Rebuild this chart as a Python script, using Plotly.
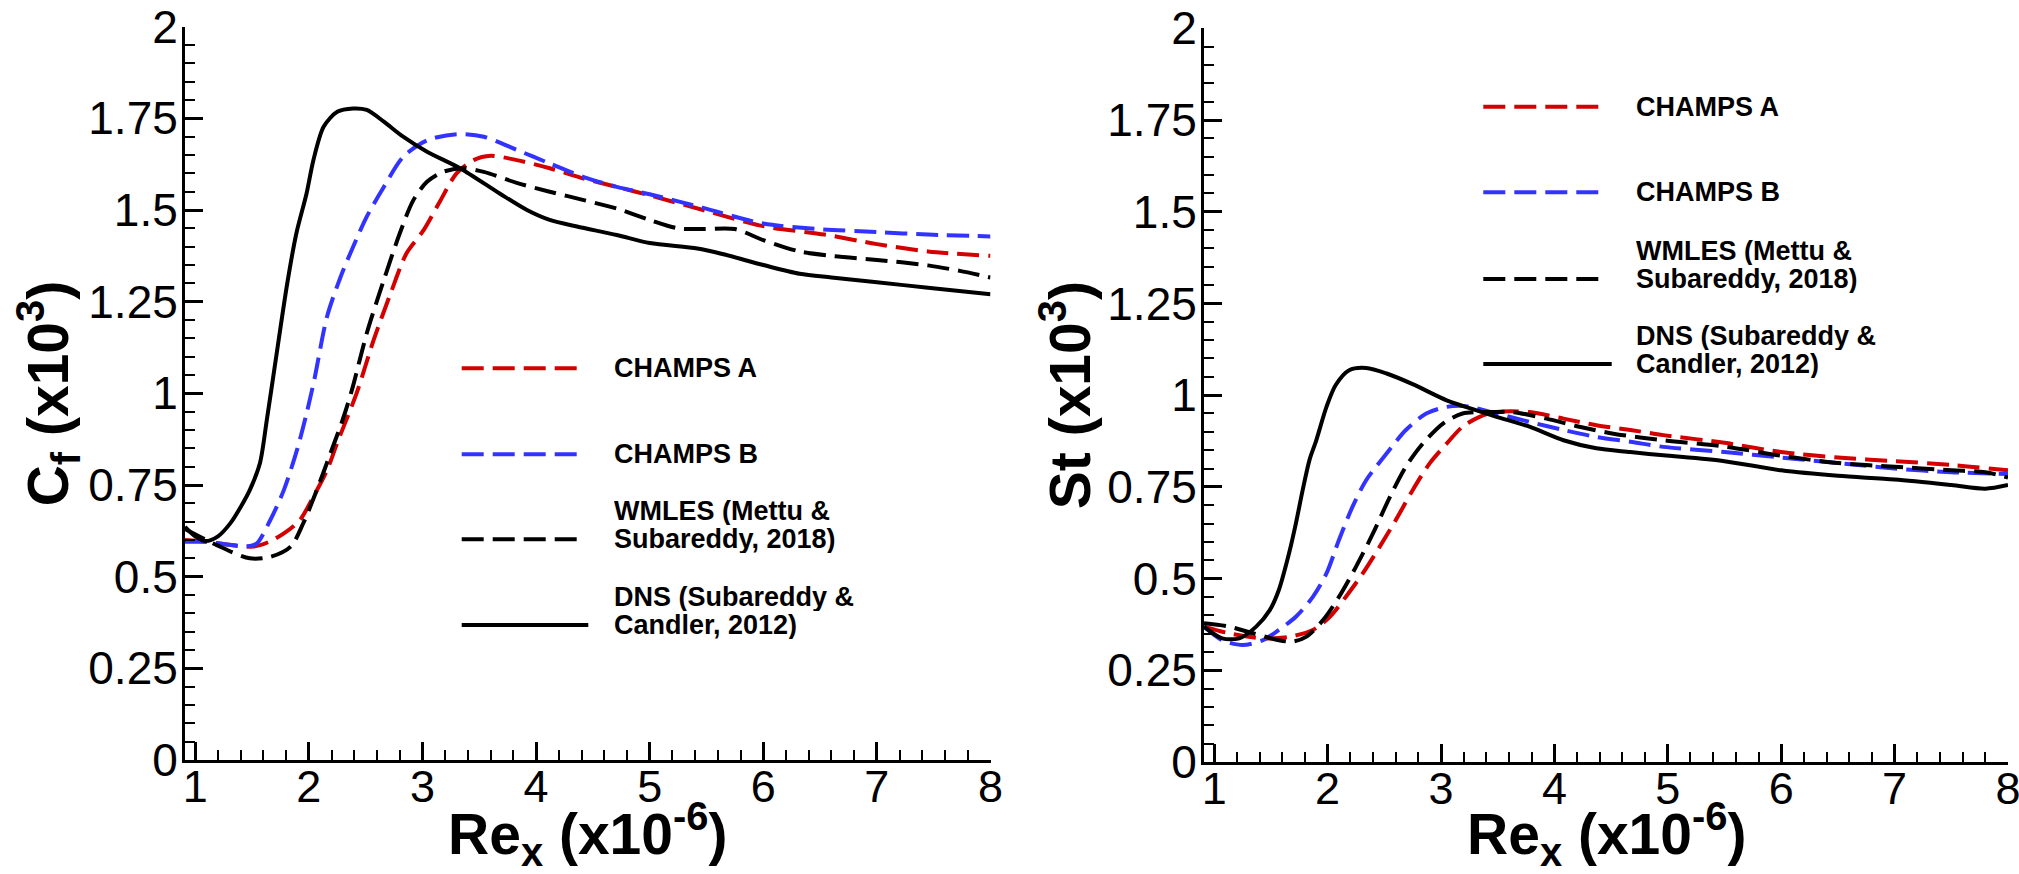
import plotly.graph_objects as go

W, H = 2019, 874

# ---------------- data ----------------
# Left panel: skin friction Cf (x10^3) vs Re_x (x10^-6)
cf_dns_x = [0.91, 1.0, 1.09, 1.2, 1.31, 1.4, 1.48, 1.57, 1.63, 1.70, 1.81, 1.89, 1.98, 2.04, 2.13, 2.25, 2.39, 2.51, 2.66, 2.83, 3.04, 3.33, 3.68, 3.92, 4.12, 4.36, 4.71, 5.0, 5.42, 5.64, 6.0, 6.32, 6.6, 7.0, 7.45, 8.0]
cf_dns_y = [0.636, 0.61, 0.597, 0.61, 0.646, 0.69, 0.736, 0.81, 0.927, 1.073, 1.30, 1.436, 1.545, 1.636, 1.727, 1.768, 1.777, 1.773, 1.741, 1.70, 1.659, 1.614, 1.545, 1.50, 1.473, 1.455, 1.432, 1.41, 1.395, 1.38, 1.35, 1.326, 1.316, 1.303, 1.288, 1.27]

cf_b_x = [0.91, 1.1, 1.3, 1.45, 1.54, 1.66, 1.78, 1.9, 1.98, 2.05, 2.16, 2.28, 2.39, 2.51, 2.66, 2.83, 3.04, 3.30, 3.54, 3.83, 4.12, 4.42, 4.71, 5.0, 5.47, 6.0, 6.49, 7.0, 7.45, 8.0]
cf_b_y = [0.595, 0.595, 0.587, 0.582, 0.59, 0.654, 0.736, 0.85, 0.945, 1.04, 1.209, 1.318, 1.40, 1.482, 1.563, 1.645, 1.69, 1.707, 1.70, 1.664, 1.627, 1.59, 1.563, 1.543, 1.506, 1.463, 1.448, 1.44, 1.433, 1.428]

cf_a_x = [0.91, 1.1, 1.3, 1.51, 1.65, 1.78, 1.92, 2.04, 2.16, 2.25, 2.42, 2.57, 2.72, 2.86, 3.01, 3.16, 3.30, 3.45, 3.60, 3.83, 4.12, 4.42, 4.71, 5.0, 5.47, 6.0, 6.54, 7.0, 7.45, 8.0]
cf_a_y = [0.60, 0.595, 0.587, 0.582, 0.595, 0.618, 0.654, 0.718, 0.79, 0.865, 1.0, 1.145, 1.273, 1.382, 1.445, 1.527, 1.60, 1.636, 1.648, 1.636, 1.614, 1.586, 1.563, 1.54, 1.50, 1.456, 1.433, 1.407, 1.387, 1.375]

cf_w_x = [0.91, 1.19, 1.48, 1.66, 1.84, 1.95, 2.07, 2.19, 2.30, 2.38, 2.51, 2.66, 2.80, 2.92, 3.04, 3.18, 3.36, 3.54, 3.83, 4.12, 4.42, 4.71, 5.0, 5.25, 5.47, 5.75, 6.0, 6.32, 6.6, 7.0, 7.45, 7.73, 8.0]
cf_w_y = [0.63, 0.586, 0.55, 0.554, 0.582, 0.645, 0.736, 0.836, 0.93, 1.01, 1.164, 1.309, 1.436, 1.527, 1.577, 1.604, 1.614, 1.604, 1.574, 1.55, 1.527, 1.504, 1.473, 1.45, 1.448, 1.448, 1.418, 1.387, 1.375, 1.364, 1.349, 1.334, 1.316]

# Right panel: Stanton number St (x10^3) vs Re_x (x10^-6)
st_dns_x = [0.91, 1.07, 1.22, 1.37, 1.49, 1.57, 1.66, 1.72, 1.78, 1.84, 1.90, 1.99, 2.07, 2.19, 2.34, 2.52, 2.75, 3.05, 3.28, 3.49, 3.78, 4.08, 4.37, 4.67, 4.96, 5.5, 6.0, 6.5, 7.0, 7.5, 7.8, 8.0]
st_dns_y = [0.369, 0.337, 0.337, 0.369, 0.414, 0.469, 0.569, 0.65, 0.741, 0.823, 0.877, 0.968, 1.027, 1.068, 1.074, 1.059, 1.03, 0.986, 0.962, 0.941, 0.914, 0.877, 0.855, 0.845, 0.836, 0.82, 0.795, 0.78, 0.77, 0.755, 0.745, 0.755]

st_a_x = [0.91, 1.13, 1.43, 1.66, 1.87, 2.02, 2.16, 2.31, 2.46, 2.60, 2.75, 2.90, 3.05, 3.19, 3.34, 3.49, 3.78, 4.08, 4.37, 4.67, 4.96, 5.5, 6.0, 6.5, 7.0, 7.5, 8.0]
st_a_y = [0.369, 0.351, 0.337, 0.341, 0.36, 0.396, 0.45, 0.514, 0.587, 0.659, 0.741, 0.814, 0.868, 0.914, 0.941, 0.954, 0.954, 0.936, 0.918, 0.905, 0.891, 0.87, 0.845, 0.83, 0.82, 0.81, 0.795]

st_b_x = [0.91, 1.07, 1.25, 1.43, 1.57, 1.72, 1.87, 1.99, 2.10, 2.22, 2.34, 2.52, 2.69, 2.87, 3.05, 3.22, 3.49, 3.78, 4.08, 4.37, 4.67, 4.96, 5.5, 6.0, 6.5, 7.0, 7.5, 8.0]
st_b_y = [0.369, 0.332, 0.319, 0.332, 0.36, 0.396, 0.45, 0.514, 0.605, 0.696, 0.768, 0.841, 0.905, 0.95, 0.968, 0.97, 0.95, 0.927, 0.905, 0.886, 0.873, 0.859, 0.845, 0.83, 0.815, 0.80, 0.79, 0.785]

st_w_x = [0.91, 1.13, 1.34, 1.57, 1.69, 1.81, 1.96, 2.10, 2.25, 2.40, 2.55, 2.69, 2.84, 3.02, 3.19, 3.49, 3.63, 3.93, 4.22, 4.52, 4.96, 5.5, 6.0, 6.5, 7.0, 7.5, 7.8, 8.0]
st_w_y = [0.378, 0.369, 0.351, 0.332, 0.328, 0.341, 0.387, 0.45, 0.532, 0.623, 0.723, 0.805, 0.868, 0.923, 0.95, 0.954, 0.954, 0.936, 0.914, 0.895, 0.877, 0.86, 0.835, 0.815, 0.805, 0.795, 0.79, 0.775]

# ticks
x_tick_vals = [1, 2, 3, 4, 5, 6, 7, 8]
x_tick_text = ["1", "2", "3", "4", "5", "6", "7", "8"]
y_tick_vals = [0, 0.25, 0.5, 0.75, 1, 1.25, 1.5, 1.75, 2]
y_tick_text = ["0", "0.25", "0.5", "0.75", "1", "1.25", "1.5", "1.75", "2"]

series_names = ["CHAMPS A", "CHAMPS B", "WMLES (Mettu & Subareddy, 2018)", "DNS (Subareddy & Candler, 2012)"]
legend_lines = [["CHAMPS A"], ["CHAMPS B"], ["WMLES (Mettu &", "Subareddy, 2018)"], ["DNS (Subareddy &", "Candler, 2012)"]]

# ---------------- styles ----------------
RED = "#d40000"
BLUE = "#3333ff"
BLACK = "#000000"
DASH = "22px,9px"
LW = 4
styles = [dict(color=RED, dash=DASH), dict(color=BLUE, dash=DASH),
          dict(color=BLACK, dash=DASH), dict(color=BLACK, dash="solid")]

FONT = "Liberation Sans, Arial, Helvetica, sans-serif"

fig = go.Figure()

left = [(cf_a_x, cf_a_y), (cf_b_x, cf_b_y), (cf_w_x, cf_w_y), (cf_dns_x, cf_dns_y)]
right = [(st_a_x, st_a_y), (st_b_x, st_b_y), (st_w_x, st_w_y), (st_dns_x, st_dns_y)]

for (xs, ys), st, nm in zip(left, styles, series_names):
    fig.add_trace(go.Scatter(x=xs, y=ys, mode="lines", name=nm, showlegend=False,
                             line=dict(color=st["color"], dash=st["dash"], width=LW,
                                       shape="spline", smoothing=0.8),
                             xaxis="x", yaxis="y"))
for (xs, ys), st, nm in zip(right, styles, series_names):
    fig.add_trace(go.Scatter(x=xs, y=ys, mode="lines", name=nm, showlegend=False,
                             line=dict(color=st["color"], dash=st["dash"], width=LW,
                                       shape="spline", smoothing=0.8),
                             xaxis="x2", yaxis="y2"))


def px_x(p):
    return p / W


def px_y(p):
    return 1 - p / H


# plot-area pixel geometry
L_X0, L_X1, L_Y0, L_Y1 = 185, 990.5, 760, 26.7
R_X0, R_X1, R_Y0, R_Y1 = 1204, 2008, 762, 28.3

common_x = dict(range=[0.91, 8], tickmode="array", tickvals=x_tick_vals, ticktext=x_tick_text,
                showline=True, linewidth=3, linecolor="black", mirror=False, automargin=False,
                ticks="inside", ticklen=18, tickwidth=3, tickcolor="black",
                minor=dict(ticks="inside", ticklen=10, tickwidth=2, tickcolor="black",
                           dtick=0.2, tick0=0, showgrid=False),
                showgrid=False, zeroline=False, ticklabelstandoff=-15, ticklabeloverflow="allow",
                tickfont=dict(family=FONT, size=45, color="black"), fixedrange=True)
common_y = dict(range=[0, 2], tickmode="array", tickvals=y_tick_vals, ticktext=y_tick_text,
                showline=True, linewidth=3, linecolor="black", mirror=False, automargin=False,
                ticks="inside", ticklen=18, tickwidth=3, tickcolor="black",
                minor=dict(ticks="inside", ticklen=10, tickwidth=2, tickcolor="black",
                           dtick=0.05, tick0=0, showgrid=False),
                showgrid=False, zeroline=False, ticklabelstandoff=-5, ticklabeloverflow="allow",
                tickfont=dict(family=FONT, size=46, color="black"), fixedrange=True)

fig.update_layout(
    width=W, height=H,
    margin=dict(l=0, r=0, t=0, b=0, autoexpand=False),
    paper_bgcolor="white", plot_bgcolor="white",
    showlegend=False,
    xaxis=dict(domain=[px_x(L_X0), px_x(L_X1)], anchor="y", **common_x),
    yaxis=dict(domain=[px_y(L_Y0), px_y(L_Y1)], anchor="x", **common_y),
    xaxis2=dict(domain=[px_x(R_X0), px_x(R_X1)], anchor="y2", **common_x),
    yaxis2=dict(domain=[px_y(R_Y0), px_y(R_Y1)], anchor="x2", **common_y),
)

annotations = []
shapes = []

# axis titles
TFONT = dict(family=FONT, size=57, color="black")
for cx in [(L_X0 + L_X1) / 2, (R_X0 + R_X1) / 2]:
    annotations.append(dict(text="<b>Re<sub>x</sub> (x10<sup>-6</sup>)</b>", xref="paper", yref="paper",
                            x=px_x(cx), y=px_y(834), xanchor="center", yanchor="middle",
                            showarrow=False, font=TFONT))
annotations.append(dict(text="<b>C<sub>f</sub> (x10<sup>3</sup>)</b>", xref="paper", yref="paper",
                        x=px_x(48), y=px_y((L_Y0 + L_Y1) / 2), xanchor="center", yanchor="middle",
                        textangle=-90, showarrow=False, font=TFONT))
annotations.append(dict(text="<b>St (x10<sup>3</sup>)</b>", xref="paper", yref="paper",
                        x=px_x(1066), y=px_y((R_Y0 + R_Y1) / 2), xanchor="center", yanchor="middle",
                        textangle=-90, showarrow=False, font=TFONT))

# legends (drawn as shapes + text)
LFONT = dict(family=FONT, size=27, color="black")
legend_specs = [
    # (line x0, dashed x1, solid x1, text x, line y list)
    (461.7, 583.3, 588.3, 611.7, [368.3, 454.3, 539.3, 625.0]),
    (1483.3, 1605.7, 1611.7, 1634.3, [106.7, 192.3, 279.0, 364.0]),
]
LINE_GAP = 28.5
for lx0, lx1d, lx1s, tx, ys in legend_specs:
    for st, lines, ly in zip(styles, legend_lines, ys):
        x1 = lx1s if st["dash"] == "solid" else lx1d
        shapes.append(dict(type="line", xref="paper", yref="paper",
                           x0=px_x(lx0), x1=px_x(x1), y0=px_y(ly), y1=px_y(ly),
                           line=dict(color=st["color"], width=LW, dash=st["dash"])))
        n = len(lines)
        for i, t in enumerate(lines):
            yy = ly - (n - 1 - i) * LINE_GAP
            annotations.append(dict(text="<b>" + t + "</b>", xref="paper", yref="paper",
                                    x=px_x(tx), y=px_y(yy), xanchor="left", yanchor="middle",
                                    height=28, valign="middle",
                                    showarrow=False, font=LFONT))

fig.update_layout(annotations=annotations, shapes=shapes)

fig.write_html("out.html")
